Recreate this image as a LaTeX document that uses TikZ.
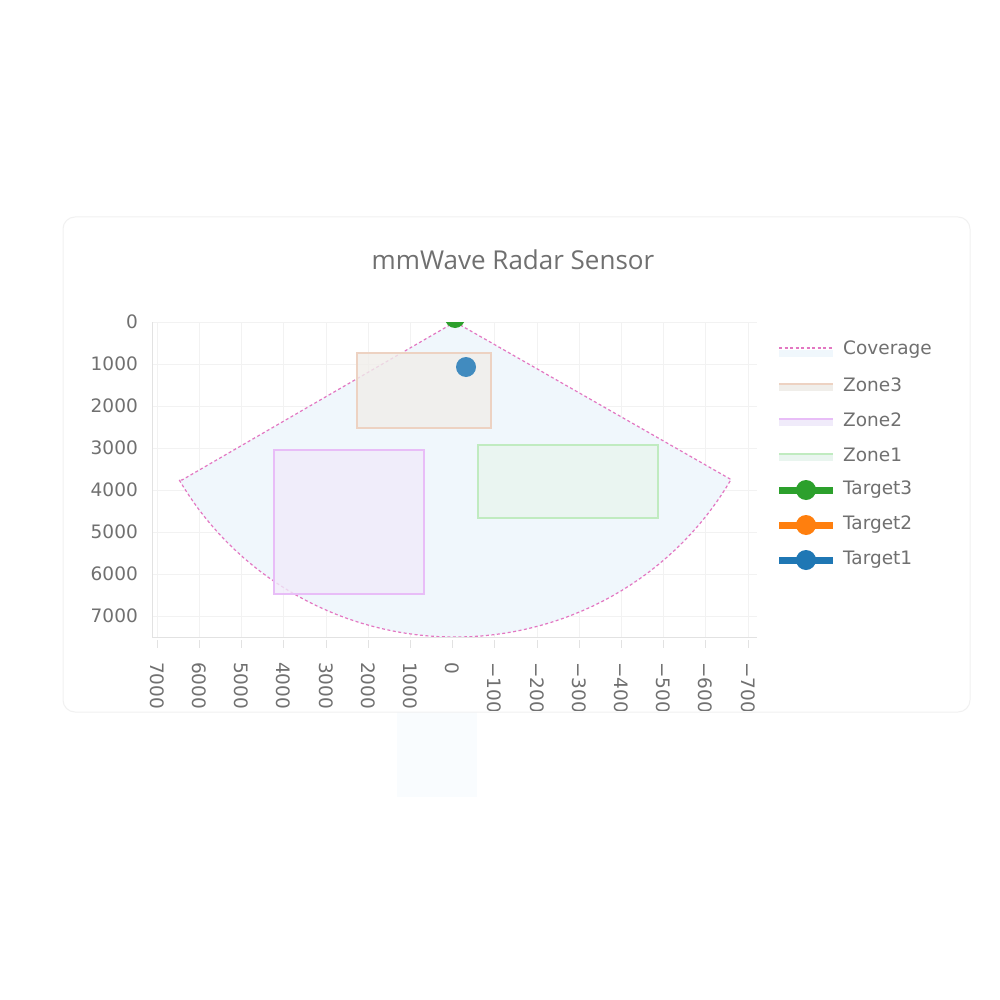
\documentclass[tikz,border=0pt]{standalone}
\usepackage{fontspec}
\setmainfont{DejaVu Sans}
\newfontfamily\titlefont{Open Sans}
\definecolor{txt}{HTML}{707070}
\definecolor{grid}{HTML}{F2F2F2}
\definecolor{covfill}{HTML}{F0F7FC}
\definecolor{covline}{HTML}{E377C2}
\definecolor{zthreeE}{HTML}{EDD2C2}\definecolor{zthreeF}{HTML}{F0EEEA}
\definecolor{ztwoE}{HTML}{E8BDF7}\definecolor{ztwoF}{HTML}{F0EBFA}
\definecolor{zoneE}{HTML}{C0EBC0}\definecolor{zoneF}{HTML}{E9F5EF}
\definecolor{tblue}{HTML}{1F77B4}\definecolor{tgreen}{HTML}{2CA02C}\definecolor{torange}{HTML}{FF7F0E}
\tikzset{
 lbl/.style={text=txt,font=\fontsize{18.5}{18.5}\selectfont,inner sep=0pt},
 leg/.style={lbl,anchor=west},
 xlbl/.style={lbl,rotate=-90,anchor=west},
 ylbl/.style={lbl,anchor=east},
 zonebox/.style={line width=2pt},
 covdash/.style={covline,dash pattern=on 3pt off 2.5pt,line width=1.2pt},
}
\begin{document}
\begin{tikzpicture}[x=1pt,y=-1pt]
\useasboundingbox (0,0) rectangle (1000,1000);
\fill[white] (0,0) rectangle (1000,1000);
% faint box below
\fill[covfill!40] (397,712) rectangle (477,797);
% card
\draw[grid!80!gray!40,fill=white,rounded corners=12pt,line width=1pt] (63,217) rectangle (970,712);
\node[text=txt,font=\titlefont\fontsize{26}{26}\selectfont] (title) at (513,260) {mmWave Radar Sensor};
% grid
\foreach \k in {0,...,14} {\draw[grid] ({157+\k*42.2},322) -- ({157+\k*42.2},637);}
\foreach \k in {0,...,7} {\draw[grid] (152,{322+\k*42}) -- (757,{322+\k*42});}
\begin{scope}
\clip (152,322) rectangle (757,637);
% coverage
\fill[covfill] (455,322) -- (182,480) -- plot[domain=60:-60,samples=60] ({455-0.0425*7500*sin(\x)},{322+0.042*7500*cos(\x)}) -- cycle;
\draw[covdash] (455,322) -- (182,480) -- plot[domain=60:-60,samples=60] ({455-0.0425*7500*sin(\x)},{322+0.042*7500*cos(\x)}) -- cycle;
% zones
\draw[zonebox,draw=zthreeE,fill=zthreeF,fill opacity=0.8] (357,353) rectangle (491,428);
\draw[zonebox,draw=ztwoE,fill=ztwoF,fill opacity=0.8] (274,450) rectangle (424,594);
\draw[zonebox,draw=zoneE,fill=zoneF,fill opacity=0.8] (478,445) rectangle (658,518);
% targets
\fill[tblue!85!white] (466,367) circle (10);
\fill[tgreen] (455,318) circle (10);
\end{scope}
% axes
\draw[grid!60!gray!50,line width=1pt] (152,322) -- (152,637) -- (757,637);
% y labels
\foreach \v [count=\i from 0] in {0,1000,2000,3000,4000,5000,6000,7000}
  {\node[ylbl] (y\i) at (138,{322+\i*42}) {\v};}
% x labels
\begin{scope}
\clip (140,640) rectangle (770,710);
\foreach \v [count=\i from 0] in {7000,6000,5000,4000,3000,2000,1000,0,−1000,−2000,−3000,−4000,−5000,−6000,−7000}
  {\draw[grid!60!gray!50] ({157+\i*42.2},637) -- ({157+\i*42.2},648);
   \node[xlbl] (x\i) at ({157+\i*42.2},662) {\v};}
\end{scope}
% legend
\fill[covfill] (779,350) rectangle (833,357);
\draw[covdash] (779,348) -- (833,348);
\node[leg] (l1) at (843,350) {Coverage};
\fill[zthreeF] (779,385) rectangle (833,391); \draw[zthreeE,line width=2pt] (779,384) -- (833,384);
\node[leg] (l2) at (843,385) {Zone3};
\fill[ztwoF] (779,420) rectangle (833,426); \draw[ztwoE,line width=2pt] (779,419) -- (833,419);
\node[leg] (l3) at (843,420) {Zone2};
\fill[zoneF] (779,455) rectangle (833,461); \draw[zoneE,line width=2pt] (779,454) -- (833,454);
\node[leg] (l4) at (843,455) {Zone1};
\draw[tgreen,line width=7pt] (779,490) -- (833,490); \fill[tgreen] (806,490) circle (10);
\node[leg] (l5) at (843,490) {Target3};
\draw[torange,line width=7pt] (779,525) -- (833,525); \fill[torange] (806,525) circle (10);
\node[leg] (l6) at (843,525) {Target2};
\draw[tblue,line width=7pt] (779,560) -- (833,560); \fill[tblue] (806,560) circle (10);
\node[leg] (l7) at (843,560) {Target1};
\end{tikzpicture}
\end{document}
